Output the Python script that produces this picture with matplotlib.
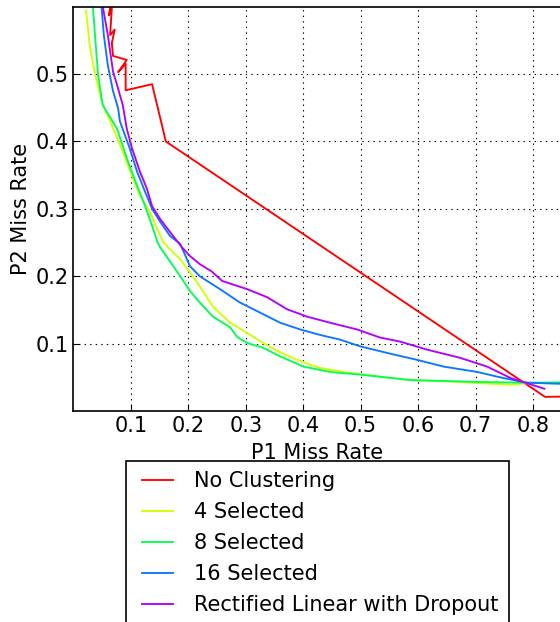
import matplotlib
matplotlib.use("Agg")
from matplotlib import pyplot as plt
from matplotlib.legend_handler import HandlerLine2D
from matplotlib.lines import Line2D

plt.rcParams['font.family'] = ['DejaVu Sans']
plt.rcParams['lines.scale_dashes'] = False

# curve points (P1 miss rate, P2 miss rate)
no_clust_x = [0.065, 0.062, 0.067, 0.064, 0.072, 0.067, 0.069, 0.093, 0.078, 0.091,
              0.091, 0.137, 0.161, 0.821, 0.90]
no_clust_y = [0.606, 0.587, 0.599, 0.558, 0.566, 0.546, 0.527, 0.521, 0.503, 0.515,
              0.476, 0.485, 0.400, 0.021, 0.022]

sel4_x = [0.022, 0.029, 0.038, 0.050, 0.067, 0.086, 0.102, 0.116, 0.133, 0.146,
          0.156, 0.168, 0.186, 0.203, 0.220, 0.243, 0.273, 0.302, 0.330, 0.360,
          0.389, 0.429, 0.477, 0.534, 0.586, 0.673, 0.761, 0.801, 0.90]
sel4_y = [0.594, 0.539, 0.499, 0.458, 0.424, 0.385, 0.349, 0.319, 0.296, 0.270,
          0.251, 0.240, 0.225, 0.206, 0.185, 0.155, 0.131, 0.116, 0.101, 0.087,
          0.076, 0.064, 0.057, 0.051, 0.046, 0.043, 0.039, 0.042, 0.040]

sel8_x = [0.034, 0.038, 0.043, 0.051, 0.076, 0.093, 0.111, 0.125, 0.137, 0.146,
          0.151, 0.186, 0.203, 0.220, 0.243, 0.273, 0.285, 0.302, 0.330, 0.360,
          0.400, 0.447, 0.499, 0.586, 0.708, 0.801, 0.90]
sel8_y = [0.601, 0.554, 0.499, 0.454, 0.419, 0.375, 0.334, 0.304, 0.275, 0.251,
          0.243, 0.200, 0.178, 0.161, 0.140, 0.124, 0.110, 0.101, 0.094, 0.081,
          0.066, 0.058, 0.054, 0.046, 0.043, 0.042, 0.043]

sel16_x = [0.049, 0.053, 0.060, 0.069, 0.078, 0.081, 0.098, 0.111, 0.125, 0.137,
           0.151, 0.168, 0.186, 0.203, 0.220, 0.255, 0.290, 0.325, 0.360, 0.395,
           0.429, 0.464, 0.499, 0.557, 0.598, 0.644, 0.703, 0.748, 0.790, 0.90]
sel16_y = [0.601, 0.558, 0.513, 0.475, 0.449, 0.430, 0.390, 0.355, 0.325, 0.300,
           0.281, 0.260, 0.248, 0.215, 0.200, 0.181, 0.161, 0.146, 0.131, 0.121,
           0.113, 0.106, 0.096, 0.084, 0.076, 0.066, 0.058, 0.049, 0.042, 0.039]

relu_x = [0.051, 0.060, 0.069, 0.076, 0.086, 0.093, 0.102, 0.116, 0.128, 0.137,
          0.151, 0.168, 0.189, 0.203, 0.220, 0.241, 0.259, 0.302, 0.337, 0.372,
          0.407, 0.447, 0.494, 0.534, 0.569, 0.616, 0.673, 0.720, 0.761, 0.820]
relu_y = [0.601, 0.558, 0.504, 0.484, 0.454, 0.419, 0.390, 0.355, 0.330, 0.304,
          0.285, 0.266, 0.243, 0.230, 0.218, 0.207, 0.193, 0.181, 0.169, 0.151,
          0.140, 0.131, 0.121, 0.109, 0.103, 0.091, 0.079, 0.066, 0.049, 0.033]

labels = ["No Clustering", "4 Selected", "8 Selected", "16 Selected",
          "Rectified Linear with Dropout"]
colors = ['#ff0000', '#d0ff00', '#00ff55', '#0a77ff', '#b000ff']
xticks = [0.1, 0.2, 0.3, 0.4, 0.5, 0.6, 0.7, 0.8]
yticks = [0.1, 0.2, 0.3, 0.4, 0.5]

fig = plt.figure(figsize=(5.6, 6.22), dpi=100)
ax = fig.add_axes([0.131, 0.3392, 0.872, 0.650])

series = [(no_clust_x, no_clust_y), (sel4_x, sel4_y), (sel8_x, sel8_y),
          (sel16_x, sel16_y), (relu_x, relu_y)]
for (xs, ys), lab, col in zip(series, labels, colors):
    ax.plot(xs, ys, color=col, lw=1.35, label=lab)

ax.set_xlim(0, 0.85)
ax.set_ylim(0, 0.6)
ax.set_xticks(xticks)
ax.set_yticks(yticks)
ax.grid(True, color='black', linestyle=(0, (1, 3)), lw=0.8)
ax.tick_params(direction='in', length=4, labelsize=15, top=False, right=False)
for sp in ax.spines.values():
    sp.set_linewidth(1.2)
ax.set_xlabel("P1 Miss Rate", fontsize=15, labelpad=5)
ax.set_ylabel("P2 Miss Rate", fontsize=15, labelpad=3)

# legend box sits under the axes and runs off the bottom of the figure
leg = ax.legend(loc='upper center', bbox_to_anchor=(0.5, -0.1225), fontsize=15,
                frameon=True, fancybox=False, framealpha=1, edgecolor='black',
                handlelength=1.75, handletextpad=1.0, labelspacing=0.53,
                borderpad=0.5, borderaxespad=0,
                handler_map={Line2D: HandlerLine2D(xpad=0.25)})
leg.get_frame().set_linewidth(1.2)

fig.savefig("out.png", dpi=100)
